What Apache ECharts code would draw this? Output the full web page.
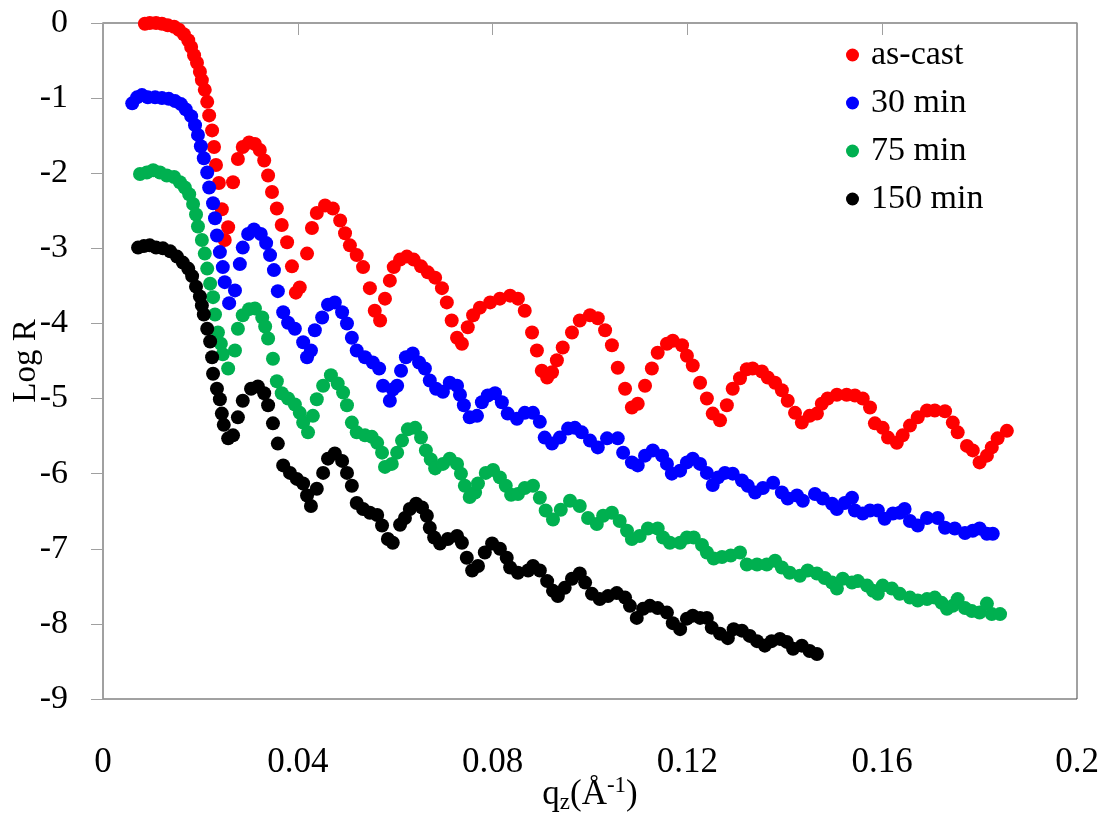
<!DOCTYPE html>
<html>
<head>
<meta charset="utf-8">
<script src="https://cdn.jsdelivr.net/npm/echarts@6/dist/echarts.min.js"></script>
<style>
    html, body {margin: 0; padding: 0; background: #fff;}
    #chart_1 {width: 1107px; height: 817px;}
</style>
</head>
<body>
<div id="chart_1"></div>
<script>
// q_z (1/A) and log R, one pair of arrays per sample
var qAsCast = [0.0086,0.0096,0.0109,0.0121,0.0133,0.0146,0.0156,0.0166,0.0175,0.0181,
    0.0187,0.0193,0.0199,0.0203,0.0209,0.0214,0.0218,0.0224,0.0228,0.0232,
    0.0238,0.0244,0.0250,0.0257,0.0267,0.0277,0.0287,0.0300,0.0312,0.0322,
    0.0331,0.0339,0.0347,0.0357,0.0367,0.0378,0.0388,0.0396,0.0404,0.0419,
    0.0429,0.0439,0.0456,0.0472,0.0487,0.0497,0.0507,0.0521,0.0534,0.0548,
    0.0558,0.0569,0.0579,0.0589,0.0597,0.0610,0.0624,0.0638,0.0653,0.0667,
    0.0682,0.0696,0.0706,0.0716,0.0727,0.0737,0.0749,0.0760,0.0774,0.0795,
    0.0815,0.0836,0.0852,0.0866,0.0881,0.0891,0.0901,0.0912,0.0922,0.0932,
    0.0944,0.0963,0.0979,0.1000,0.1016,0.1031,0.1045,0.1057,0.1072,0.1086,
    0.1098,0.1113,0.1127,0.1139,0.1158,0.1170,0.1189,0.1199,0.1211,0.1226,
    0.1240,0.1252,0.1267,0.1281,0.1293,0.1308,0.1322,0.1334,0.1353,0.1365,
    0.1380,0.1394,0.1406,0.1421,0.1435,0.1451,0.1466,0.1476,0.1488,0.1507,
    0.1527,0.1544,0.1560,0.1575,0.1585,0.1601,0.1612,0.1630,0.1642,0.1657,
    0.1673,0.1692,0.1708,0.1729,0.1745,0.1755,0.1774,0.1786,0.1800,0.1815,
    0.1825,0.1837,0.1856];
var logAsCast = [-0.01,0,0,-0.01,-0.03,-0.05,-0.09,-0.15,-0.23,-0.32,
    -0.43,-0.53,-0.65,-0.76,-0.89,-1.05,-1.23,-1.43,-1.65,-1.89,
    -2.13,-2.48,-2.89,-2.72,-2.12,-1.81,-1.65,-1.59,-1.61,-1.69,
    -1.83,-2.03,-2.25,-2.47,-2.69,-2.92,-3.24,-3.59,-3.52,-3.07,
    -2.73,-2.53,-2.43,-2.47,-2.63,-2.80,-2.96,-3.09,-3.25,-3.53,
    -3.83,-3.96,-3.67,-3.43,-3.25,-3.15,-3.11,-3.15,-3.24,-3.32,
    -3.39,-3.53,-3.72,-3.96,-4.19,-4.27,-4.05,-3.89,-3.79,-3.72,
    -3.67,-3.63,-3.67,-3.83,-4.12,-4.36,-4.63,-4.72,-4.65,-4.49,
    -4.32,-4.12,-3.96,-3.89,-3.93,-4.09,-4.29,-4.59,-4.87,-5.12,
    -5.07,-4.83,-4.60,-4.39,-4.27,-4.23,-4.29,-4.43,-4.56,-4.79,
    -5.00,-5.20,-5.29,-5.09,-4.87,-4.73,-4.61,-4.60,-4.64,-4.72,
    -4.79,-4.89,-5.03,-5.19,-5.32,-5.23,-5.20,-5.07,-5.00,-4.95,
    -4.95,-4.96,-5.00,-5.12,-5.33,-5.39,-5.52,-5.59,-5.49,-5.36,
    -5.25,-5.16,-5.16,-5.17,-5.32,-5.45,-5.63,-5.69,-5.85,-5.76,
    -5.65,-5.53,-5.43];

var q30 = [0.0060,0.0070,0.0080,0.0092,0.0107,0.0121,0.0135,0.0148,0.0160,0.0170,
    0.0181,0.0189,0.0195,0.0201,0.0207,0.0214,0.0218,0.0226,0.0230,0.0234,
    0.0240,0.0246,0.0250,0.0259,0.0271,0.0281,0.0287,0.0298,0.0310,0.0324,
    0.0335,0.0343,0.0351,0.0359,0.0370,0.0380,0.0394,0.0411,0.0419,0.0427,
    0.0435,0.0450,0.0462,0.0476,0.0491,0.0501,0.0511,0.0521,0.0538,0.0554,
    0.0567,0.0575,0.0589,0.0595,0.0604,0.0612,0.0622,0.0636,0.0649,0.0661,
    0.0671,0.0684,0.0698,0.0712,0.0727,0.0733,0.0741,0.0753,0.0768,0.0778,
    0.0790,0.0805,0.0819,0.0831,0.0850,0.0866,0.0883,0.0897,0.0907,0.0922,
    0.0938,0.0955,0.0969,0.0983,0.1000,0.1016,0.1035,0.1057,0.1068,0.1086,
    0.1098,0.1113,0.1129,0.1148,0.1158,0.1168,0.1185,0.1199,0.1211,0.1226,
    0.1240,0.1252,0.1263,0.1277,0.1293,0.1312,0.1324,0.1339,0.1355,0.1376,
    0.1394,0.1406,0.1425,0.1437,0.1462,0.1478,0.1497,0.1507,0.1523,0.1538,
    0.1544,0.1560,0.1575,0.1591,0.1605,0.1622,0.1636,0.1646,0.1657,0.1673,
    0.1692,0.1714,0.1729,0.1749,0.1770,0.1786,0.1800,0.1815,0.1827];
var log30 = [-1.07,-0.99,-0.96,-0.99,-0.99,-1.00,-1.01,-1.04,-1.08,-1.15,
    -1.24,-1.36,-1.49,-1.64,-1.80,-1.99,-2.19,-2.40,-2.60,-2.83,
    -3.05,-3.25,-3.45,-3.73,-3.56,-3.21,-2.99,-2.81,-2.75,-2.81,
    -2.93,-3.09,-3.29,-3.57,-3.85,-3.99,-4.07,-4.25,-4.45,-4.36,
    -4.09,-3.92,-3.75,-3.72,-3.85,-4.00,-4.19,-4.36,-4.45,-4.52,
    -4.60,-4.83,-5.03,-4.88,-4.83,-4.63,-4.45,-4.40,-4.52,-4.60,
    -4.76,-4.87,-4.91,-4.79,-4.83,-4.95,-5.09,-5.25,-5.23,-5.05,
    -4.96,-4.93,-5.05,-5.20,-5.27,-5.19,-5.19,-5.31,-5.52,-5.60,
    -5.52,-5.40,-5.39,-5.45,-5.56,-5.65,-5.53,-5.53,-5.72,-5.85,
    -5.89,-5.76,-5.69,-5.76,-5.87,-6.00,-5.96,-5.85,-5.80,-5.87,
    -5.99,-6.15,-6.05,-5.99,-6.00,-6.09,-6.16,-6.25,-6.19,-6.12,
    -6.25,-6.33,-6.29,-6.36,-6.27,-6.33,-6.40,-6.47,-6.39,-6.32,
    -6.49,-6.53,-6.49,-6.49,-6.60,-6.53,-6.52,-6.47,-6.63,-6.69,
    -6.59,-6.59,-6.72,-6.73,-6.79,-6.76,-6.73,-6.80,-6.80];

var q75 = [0.0076,0.0090,0.0103,0.0117,0.0131,0.0146,0.0158,0.0168,0.0177,0.0185,
    0.0191,0.0195,0.0203,0.0209,0.0214,0.0220,0.0226,0.0230,0.0236,0.0242,
    0.0246,0.0257,0.0271,0.0277,0.0287,0.0300,0.0312,0.0327,0.0333,0.0339,
    0.0349,0.0357,0.0367,0.0380,0.0394,0.0404,0.0411,0.0421,0.0431,0.0439,
    0.0452,0.0468,0.0482,0.0493,0.0501,0.0511,0.0521,0.0538,0.0552,0.0563,
    0.0573,0.0579,0.0593,0.0604,0.0614,0.0626,0.0641,0.0653,0.0663,0.0673,
    0.0682,0.0698,0.0712,0.0727,0.0735,0.0743,0.0753,0.0764,0.0770,0.0786,
    0.0801,0.0815,0.0827,0.0838,0.0852,0.0866,0.0883,0.0897,0.0909,0.0924,
    0.0940,0.0959,0.0979,0.0996,0.1014,0.1027,0.1045,0.1061,0.1076,0.1086,
    0.1102,0.1119,0.1139,0.1150,0.1164,0.1185,0.1199,0.1213,0.1230,0.1240,
    0.1254,0.1271,0.1289,0.1308,0.1322,0.1343,0.1363,0.1380,0.1394,0.1410,
    0.1431,0.1447,0.1466,0.1482,0.1497,0.1507,0.1519,0.1538,0.1550,0.1569,
    0.1581,0.1591,0.1601,0.1620,0.1636,0.1657,0.1673,0.1692,0.1708,0.1722,
    0.1733,0.1745,0.1755,0.1770,0.1784,0.1800,0.1815,0.1825,0.1842];
var log75 = [-2.01,-1.99,-1.96,-1.99,-2.03,-2.05,-2.12,-2.19,-2.28,-2.41,
    -2.55,-2.71,-2.89,-3.07,-3.27,-3.47,-3.65,-3.88,-4.12,-4.27,
    -4.41,-4.60,-4.36,-4.07,-3.89,-3.81,-3.80,-3.92,-4.04,-4.20,
    -4.47,-4.77,-4.93,-5.00,-5.08,-5.19,-5.32,-5.45,-5.23,-5.01,
    -4.83,-4.69,-4.80,-4.92,-5.09,-5.32,-5.45,-5.49,-5.51,-5.59,
    -5.72,-5.91,-5.87,-5.72,-5.56,-5.41,-5.39,-5.52,-5.69,-5.81,
    -5.93,-5.87,-5.80,-5.87,-6.00,-6.16,-6.31,-6.25,-6.13,-5.99,
    -5.95,-6.05,-6.16,-6.28,-6.27,-6.19,-6.16,-6.32,-6.49,-6.61,
    -6.48,-6.36,-6.43,-6.59,-6.67,-6.56,-6.52,-6.63,-6.76,-6.87,
    -6.83,-6.73,-6.73,-6.85,-6.92,-6.92,-6.85,-6.85,-6.95,-7.05,
    -7.13,-7.11,-7.09,-7.05,-7.21,-7.21,-7.21,-7.16,-7.25,-7.32,
    -7.36,-7.29,-7.33,-7.39,-7.45,-7.53,-7.40,-7.45,-7.43,-7.49,
    -7.56,-7.60,-7.49,-7.53,-7.60,-7.65,-7.69,-7.67,-7.65,-7.72,
    -7.80,-7.76,-7.67,-7.79,-7.83,-7.85,-7.73,-7.87,-7.87];

var q150 = [0.0072,0.0084,0.0096,0.0109,0.0123,0.0138,0.0152,0.0164,0.0175,0.0183,
    0.0191,0.0199,0.0203,0.0207,0.0214,0.0220,0.0224,0.0226,0.0234,0.0240,
    0.0244,0.0248,0.0257,0.0267,0.0277,0.0287,0.0304,0.0318,0.0331,0.0339,
    0.0349,0.0359,0.0370,0.0384,0.0398,0.0411,0.0419,0.0427,0.0439,0.0452,
    0.0462,0.0476,0.0491,0.0501,0.0511,0.0521,0.0534,0.0548,0.0563,0.0573,
    0.0585,0.0595,0.0610,0.0620,0.0630,0.0643,0.0655,0.0665,0.0671,0.0680,
    0.0692,0.0708,0.0727,0.0737,0.0747,0.0758,0.0770,0.0784,0.0799,0.0815,
    0.0829,0.0836,0.0852,0.0873,0.0883,0.0897,0.0912,0.0924,0.0934,0.0948,
    0.0963,0.0979,0.0990,0.1004,0.1020,0.1037,0.1055,0.1072,0.1082,0.1096,
    0.1109,0.1123,0.1139,0.1158,0.1170,0.1185,0.1199,0.1211,0.1226,0.1240,
    0.1250,0.1267,0.1283,0.1295,0.1312,0.1328,0.1343,0.1359,0.1373,0.1390,
    0.1404,0.1417,0.1435,0.1451,0.1466];
var log150 = [-2.99,-2.97,-2.96,-2.99,-3.00,-3.04,-3.11,-3.19,-3.27,-3.37,
    -3.51,-3.64,-3.76,-3.88,-4.07,-4.24,-4.45,-4.67,-4.87,-5.01,
    -5.20,-5.35,-5.53,-5.49,-5.25,-5.03,-4.87,-4.84,-4.93,-5.09,
    -5.33,-5.60,-5.89,-5.99,-6.07,-6.13,-6.29,-6.43,-6.20,-5.99,
    -5.80,-5.73,-5.83,-5.99,-6.16,-6.39,-6.47,-6.52,-6.55,-6.69,
    -6.87,-6.92,-6.68,-6.59,-6.47,-6.40,-6.45,-6.56,-6.72,-6.85,
    -6.93,-6.87,-6.83,-6.92,-7.12,-7.29,-7.23,-7.05,-6.93,-7.00,
    -7.12,-7.25,-7.32,-7.29,-7.23,-7.29,-7.43,-7.56,-7.63,-7.52,
    -7.40,-7.33,-7.45,-7.60,-7.67,-7.63,-7.59,-7.65,-7.76,-7.92,
    -7.80,-7.76,-7.79,-7.85,-7.99,-8.07,-7.93,-7.89,-7.92,-7.92,
    -8.05,-8.13,-8.19,-8.07,-8.09,-8.16,-8.23,-8.29,-8.23,-8.20,
    -8.24,-8.33,-8.29,-8.36,-8.40];

var seriesNames = ['as-cast', '30 min', '75 min', '150 min'];
var seriesColors = ['#ff0000', '#0000ff', '#00b050', '#000000'];
var seriesQ = [qAsCast, q30, q75, q150];
var seriesLog = [logAsCast, log30, log75, log150];

var font = '"Liberation Serif", "Times New Roman", serif';

function pairs(xs, ys) {
    var d = [];
    for (var i = 0; i < xs.length; i++) {
        d.push([xs[i], ys[i]]);
    }
    return d;
}

var myChart = echarts.init(document.getElementById('chart_1'));
var option = {
    animation: false,
    backgroundColor: '#fff',
    grid: {
        left: 103,
        right: 30,
        top: 23,
        bottom: 118,
        containLabel: false,
        outerBoundsMode: 'none',
        show: true,
        borderColor: '#444',
        borderWidth: 1
    },
    legend: {
        data: seriesNames,
        orient: 'vertical',
        left: 846,
        top: 38,
        padding: 0,
        itemGap: 14,
        itemWidth: 27,
        itemHeight: 13,
        icon: 'circle',
        textStyle: {fontFamily: font, fontSize: 34, color: '#000'}
    },
    xAxis: {
        type: 'value',
        min: 0,
        max: 0.2,
        interval: 0.04,
        name: '{n|q}{s|z}{n|(Å}{p|-1}{n|)}',
        nameLocation: 'middle',
        nameGap: 75,
        nameMoveOverlap: false,
        nameTextStyle: {
            rich: {
                n: {fontFamily: font, fontSize: 35, color: '#000'},
                s: {fontFamily: font, fontSize: 23, color: '#000', padding: [16, 0, 0, 0]},
                p: {fontFamily: font, fontSize: 23, color: '#000', padding: [0, 0, 18, 0]}
            }
        },
        axisLine: {lineStyle: {color: '#a0a0a0', width: 1.5}},
        axisTick: {show: true, length: 12, lineStyle: {color: '#a0a0a0'}},
        axisLabel: {
            margin: 46,
            fontFamily: font,
            fontSize: 35,
            color: '#000',
            formatter: function (v) {
                return String(+v.toFixed(2));
            }
        },
        splitLine: {show: false}
    },
    yAxis: {
        type: 'value',
        min: -9,
        max: 0,
        interval: 1,
        name: 'Log R',
        nameLocation: 'middle',
        nameGap: 60,
        nameMoveOverlap: false,
        nameTextStyle: {fontFamily: font, fontSize: 33, color: '#000'},
        axisLine: {show: true, lineStyle: {color: '#a0a0a0', width: 1.5}},
        axisTick: {show: true, length: 12, lineStyle: {color: '#a0a0a0'}},
        axisLabel: {margin: 35, fontFamily: font, fontSize: 34, color: '#000'},
        splitLine: {show: false}
    },
    series: seriesNames.map(function (name, i) {
        return {
            name: name,
            type: 'scatter',
            symbol: 'circle',
            symbolSize: 14,
            itemStyle: {color: seriesColors[i], opacity: 1},
            data: pairs(seriesQ[i], seriesLog[i])
        };
    })
};

myChart.setOption(option);
</script>
</body>
</html>
